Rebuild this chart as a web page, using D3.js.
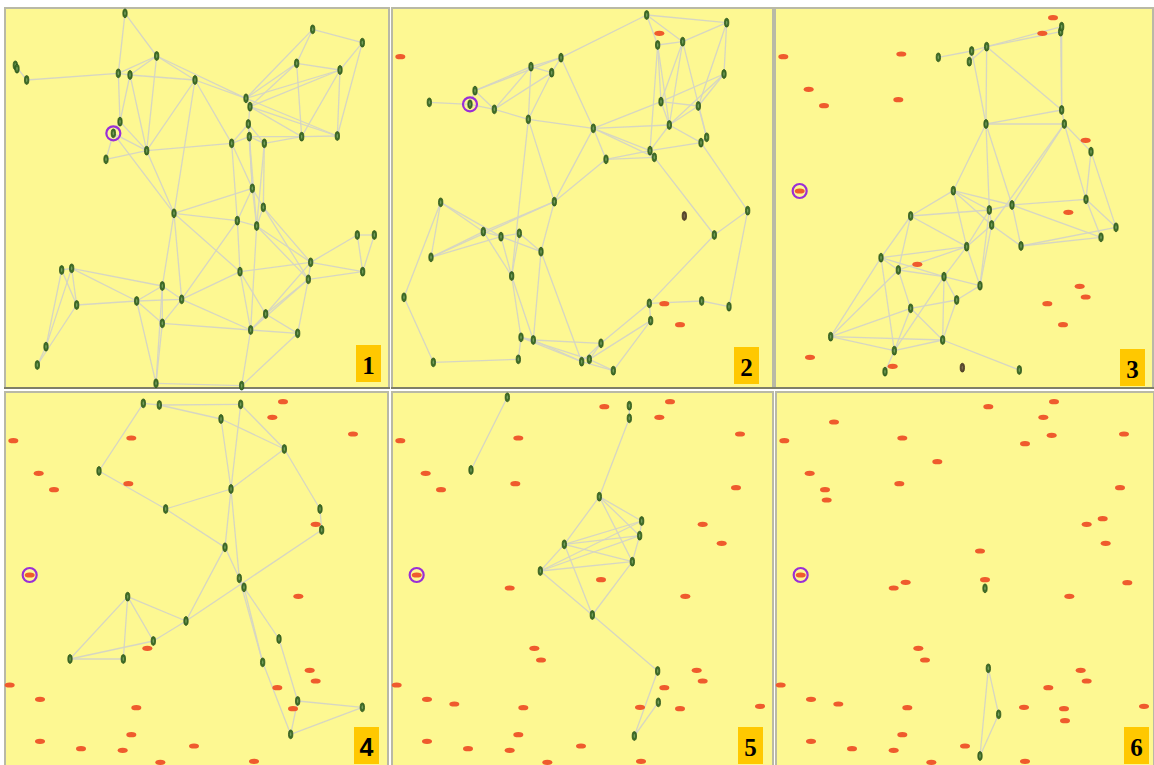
<!DOCTYPE html>
<html>
<head>
<meta charset="utf-8">
<script src="https://cdn.jsdelivr.net/npm/d3@7"></script>
<style>
  html, body { margin: 0; background: #ffffff; }
  svg { display: block; }
</style>
</head>
<body>
<svg id="chart" width="1154" height="765"></svg>
<script>
// Sensor field snapshots over six rounds. Coordinates are field units (0..1140 square).
const FIELD = 1140;
const roundLabels = ["1", "2", "3", "4", "5", "6"];

// Dead sensors keep their last position; `since` is the first round they appear dead.
const deadNodes = [
  {x: 637, y: 44, since: 5}, {x: 834, y: 29, since: 3}, {x: 802, y: 76, since: 2},
  {x: 174, y: 90, since: 6}, {x: 25, y: 146, since: 2}, {x: 379, y: 138, since: 3},
  {x: 827, y: 130, since: 6}, {x: 747, y: 155, since: 6}, {x: 1044, y: 126, since: 4},
  {x: 484, y: 209, since: 6}, {x: 101, y: 244, since: 3}, {x: 370, y: 275, since: 3},
  {x: 147, y: 293, since: 3}, {x: 152, y: 324, since: 6}, {x: 1032, y: 287, since: 5},
  {x: 980, y: 380, since: 6}, {x: 932, y: 397, since: 3}, {x: 989, y: 454, since: 5},
  {x: 612, y: 477, since: 6}, {x: 627, y: 563, since: 5}, {x: 74, y: 549, since: 3},
  {x: 389, y: 571, since: 6}, {x: 353, y: 588, since: 5}, {x: 1054, y: 572, since: 6},
  {x: 880, y: 613, since: 3}, {x: 427, y: 769, since: 3}, {x: 447, y: 804, since: 5},
  {x: 914, y: 835, since: 3}, {x: 932, y: 867, since: 3}, {x: 14, y: 879, since: 4},
  {x: 817, y: 887, since: 2}, {x: 105, y: 922, since: 4}, {x: 187, y: 936, since: 5},
  {x: 394, y: 947, since: 4}, {x: 744, y: 946, since: 5}, {x: 864, y: 950, since: 2},
  {x: 1104, y: 943, since: 5}, {x: 867, y: 986, since: 6}, {x: 379, y: 1028, since: 4},
  {x: 105, y: 1048, since: 3}, {x: 228, y: 1070, since: 4}, {x: 353, y: 1075, since: 3},
  {x: 567, y: 1062, since: 4}, {x: 466, y: 1111, since: 4}, {x: 747, y: 1108, since: 4}
];

// The monitored (circled) sensor: alive id per round, or its dead position.
const sinkAlive = ["p", "k", null, null, null, null];
const sinkDead = {x: 74, y: 549};

// Live sensors per round: [id, x, y]
const alive1 = [
  ["a",360,16],["b",31,172],["b2",36,182],["c",65,216],["d",455,144],["e",340,196],["f",375,201],
  ["g",570,216],["h",923,64],["i",1072,104],["j",875,166],["k",1005,186],["l",723,271],
  ["m",735,296],["n",730,348],["o",345,341],["p",325,376],["q",303,454],["r",425,428],
  ["s",680,406],["t",733,386],["u",778,406],["v",890,386],["w",997,384],["x",742,541],
  ["y",775,598],["z",507,616],["aa",697,638],["ab",755,654],["ac",1057,681],["ad",1108,681],
  ["ae",170,786],["af",200,781],["ag",917,763],["ah",705,791],["ai",910,814],["aj",1073,791],
  ["ak",472,834],["al",215,891],["am",395,879],["an",530,874],["ao",782,918],["ap",472,946],
  ["aq",737,966],["ar",878,976],["as",123,1016],["at",97,1071],["au",453,1126],["av",710,1133]
];
const links1 = [
  "a-e","a-d","b-c","c-e","e-f","e-o","f-o","d-f","d-e","d-g","f-g","d-l","f-r","d-r","o-p",
  "p-q","p-r","o-r","q-r","p-z","g-r","g-s","g-l","g-z","r-z","r-s",
  "h-i","h-j","h-l","i-k","i-w","j-k","j-l","j-m","k-l","k-m","k-w","k-v","j-v","l-m","m-n",
  "l-w","m-w","m-v","n-t","t-v","v-w","u-v","n-s","s-t","t-u","n-u",
  "n-x","t-x","u-y","x-y","s-aa","t-ab","u-ab","x-ab","x-z","z-aa","aa-ab","x-aa",
  "z-ah","z-ak","z-an","aa-ah","aa-an","ab-ag","ab-ai","ab-aq","y-ag","y-ai","ag-ac","ag-aj",
  "ag-ah","ag-ai","ag-ao","ac-ad","ad-aj","ac-aj","ai-ao","ai-ar","ai-aq","ai-aj","ah-an",
  "ah-aq","ah-ao","ao-aq","aq-ar","ao-ar","ar-av","aq-av","au-av","ap-au","ak-au","am-au",
  "ak-af","ak-am","ak-an","ak-ap","am-al","am-af","am-ap","am-an","an-ap","an-aq","ap-aq",
  "ae-af","ae-as","af-as","af-al","as-at","al-at","ae-al","y-ab","s-x"
];

const alive2 = [
  ["a",764,21],["b",1004,44],["c",797,111],["d",872,101],["e",507,149],["f",417,176],
  ["g",479,194],["h",996,198],["i",249,248],["j",112,283],["k",234,289],["l",307,304],
  ["m",409,334],["n",807,281],["o",919,294],["p",604,361],["q",832,351],["r",944,388],
  ["s",927,404],["t",774,428],["u",787,448],["v",642,454],["w",487,581],["x",146,583],
  ["y",1067,608],["z",877,624,true],["aa",274,671],["ab",327,686],["ac",382,676],["ad",447,731],
  ["ae",117,748],["af",967,681],["ag",359,804],["ah",36,868],["ai",772,886],["aj",929,879],
  ["ak",1011,896],["al",776,938],["am",387,988],["an",424,996],["ao",627,1006],["ap",379,1054],
  ["aq",124,1063],["ar",569,1061],["as",592,1054],["at",664,1088]
];
const links2 = [
  "j-k","i-k","k-l","i-l","i-f","i-e","l-f","l-g","l-m","f-g","e-g","e-f","g-m","f-m","m-p",
  "e-p","e-a","a-b","a-c","a-d","c-d","c-n","c-q","c-t","d-b","d-n","d-q","d-r","b-h","b-o",
  "h-n","h-o","h-q","n-o","n-q","o-q","o-r","q-t","q-s","r-s","s-t","t-u","p-t","p-v","v-t",
  "v-u","p-u","p-n","p-q","w-v","w-p","m-w","m-ag","s-y","u-af","y-af","af-ai","y-ak",
  "x-aa","x-ab","x-ae","x-ah","aa-ab","ab-ac","ab-ad","ac-ad","w-aa","w-ae","ae-aa","ae-ab",
  "aa-ag","ab-ag","ac-ag","ag-am","ag-an","ad-an","ad-ar","ah-aq","aq-ap","ap-am","am-an",
  "an-ar","am-ar","am-as","an-ao","ao-ar","ao-as","ao-ai","as-al","al-ai","ar-at","as-at",
  "at-al","ai-aj","aj-ak","w-ad"
];

const alive3 = [
  ["a",857,71],["a2",860,56],["b",635,116],["c",590,129],["d",583,161],["e",490,148],
  ["f",860,306],["g",633,348],["h",868,348],["i",948,431],["j",535,548],["k",407,624],
  ["l",643,606],["m",711,591],["n",933,574],["o",650,651],["p",1023,658],["q",978,688],
  ["r",738,714],["s",575,716],["t",318,749],["u",370,786],["v",507,806],["w",615,833],
  ["x",545,876],["y",407,901],["z",167,986],["aa",503,996],["ab",358,1028],["ac",330,1091],
  ["ad",562,1079,true],["ae",733,1086]
];
const links3 = [
  "e-c","c-b","b-a","b-a2","a-a2","d-c","b-d","b-g","c-g","b-f","a-f","a2-f","f-h","g-h",
  "g-f","g-j","g-l","g-m","m-h","h-o","h-i","h-n","i-n","i-p","n-p","n-q","m-n","m-q","r-q",
  "r-p","l-m","l-o","j-k","j-l","j-m","j-s","j-o","k-s","k-t","k-u","k-l","t-u","t-v","t-s",
  "u-v","u-s","u-y","v-s","v-w","v-x","s-w","s-l","o-s","o-w","l-w","y-x","y-z","y-aa",
  "y-ab","z-ab","z-aa","z-u","z-t","aa-ab","aa-x","aa-v","aa-ae","ab-ac","ab-t","ab-v",
  "x-w","m-r","o-r"
];

const alive4 = [
  ["a",415,34],["b",463,39],["c",707,37],["d",648,81],["e",838,171],["f",282,237],
  ["g",678,291],["h",482,351],["i",945,351],["j",950,414],["k",660,466],["l",703,559],
  ["m",717,586],["n",368,614],["o",543,687],["p",445,747],["q",195,801],["r",355,801],
  ["s",822,741],["t",773,811],["u",878,927],["v",1072,946],["w",857,1027]
];
const links4 = [
  "a-f","a-b","b-c","b-d","d-e","c-e","c-g","d-g","g-k","g-l","e-g","e-i","i-j","j-o","g-h",
  "f-h","h-k","k-o","k-l","l-m","m-s","m-t","l-t","n-o","n-p","n-q","n-r","q-r","q-p","p-o",
  "s-u","t-w","u-w","u-v","w-v"
];

const alive5 = [
  ["a",346,16],["b",237,234],["c",712,41],["d",712,79],["e",622,314],["f",749,387],
  ["g",743,431],["h",517,457],["i",721,509],["j",445,537],["k",601,669],["l",797,837],
  ["m",799,931],["n",727,1032]
];
const links5 = [
  "a-b","c-d","d-e","e-h","e-f","e-g","e-i","h-f","h-g","h-i","j-h","j-f","j-g","j-i","h-k",
  "j-k","i-k","g-i","f-g","k-l","l-n","m-n"
];

const alive6 = [
  ["a",627,589],["b",637,829],["c",668,967],["d",612,1092]
];
const links6 = ["b-c","c-d","b-d"];

const aliveByRound = [alive1, alive2, alive3, alive4, alive5, alive6];
const linksByRound = [links1, links2, links3, links4, links5, links6];

// Panel frames in page pixels
const panels = [
  {x: 5,   y: 8,   w: 384, h: 380, lx: 356,  ly: 345, font: "'Liberation Serif', serif"},
  {x: 392, y: 8,   w: 381, h: 380, lx: 734,  ly: 347, font: "'Liberation Serif', serif"},
  {x: 775, y: 8,   w: 378, h: 380, lx: 1120, ly: 349, font: "'Liberation Serif', serif"},
  {x: 5,   y: 392, w: 383, h: 380, lx: 354,  ly: 727, font: "'Liberation Sans', Arial, sans-serif"},
  {x: 392, y: 392, w: 381, h: 380, lx: 738,  ly: 727, font: "'Liberation Serif', serif"},
  {x: 776, y: 392, w: 378, h: 380, lx: 1124, ly: 727, font: "'Liberation Serif', serif"}
];

const svg = d3.select("#chart");
const sx = d3.scaleLinear().domain([0, FIELD]).range([0, 380]);
const sy = d3.scaleLinear().domain([0, FIELD]).range([0, 380]);

panels.forEach((pf, r) => {
  const round = r + 1;
  const g = svg.append("g").attr("transform", `translate(${pf.x},${pf.y})`);

  g.append("rect")
    .attr("x", 0).attr("y", 0).attr("width", pf.w).attr("height", pf.h)
    .attr("fill", "#fdf892")
    .attr("stroke", "#b9b9a6").attr("stroke-width", 2);
  g.append("line")
    .attr("x1", -1).attr("x2", pf.w + 1).attr("y1", pf.h).attr("y2", pf.h)
    .attr("stroke", "#7f7f68").attr("stroke-width", 2);

  const nodes = aliveByRound[r].map(d => ({id: d[0], x: d[1], y: d[2], weak: !!d[3]}));
  const byId = new Map(nodes.map(n => [n.id, n]));
  const links = linksByRound[r].map(s => s.split("-")).map(([a, b]) => ({s: byId.get(a), t: byId.get(b)}));

  // radio links
  g.append("g").selectAll("line").data(links).join("line")
    .attr("x1", d => sx(d.s.x)).attr("y1", d => sy(d.s.y))
    .attr("x2", d => sx(d.t.x)).attr("y2", d => sy(d.t.y))
    .attr("stroke", "#d4d4c6").attr("stroke-width", 1.3).attr("stroke-opacity", 0.95);

  // dead sensors
  const dead = deadNodes.filter(d => d.since <= round);
  g.append("g").selectAll("ellipse").data(dead).join("ellipse")
    .attr("cx", d => sx(d.x)).attr("cy", d => sy(d.y))
    .attr("rx", 5).attr("ry", 2.6)
    .attr("fill", "#ef5b2d");

  // live sensors
  const live = g.append("g").selectAll("g").data(nodes).join("g")
    .attr("transform", d => `translate(${sx(d.x)},${sy(d.y)})`);
  live.append("ellipse")
    .attr("rx", 2.2).attr("ry", 4.4)
    .attr("fill", d => d.weak ? "#5a4a30" : "#3f6e28")
    .attr("stroke", d => d.weak ? "#3d2e1a" : "#264d16").attr("stroke-width", 0.7);
  live.append("ellipse")
    .attr("rx", 0.7).attr("ry", 2)
    .attr("fill", d => d.weak ? "#8a7a5a" : "#8fb072").attr("opacity", 0.7);

  // monitored sensor ring
  const sink = sinkAlive[r] ? byId.get(sinkAlive[r]) : sinkDead;
  g.append("circle")
    .attr("cx", sx(sink.x)).attr("cy", sy(sink.y)).attr("r", 7)
    .attr("fill", "none").attr("stroke", "#9a2fd6").attr("stroke-width", 2.2);

  // round label
  const lbl = svg.append("g").attr("transform", `translate(${pf.lx},${pf.ly})`);
  lbl.append("rect").attr("width", 25).attr("height", 37).attr("fill", "#ffc800");
  lbl.append("text")
    .attr("x", 12.5).attr("y", 29)
    .attr("text-anchor", "middle")
    .attr("font-family", pf.font)
    .attr("font-weight", "bold")
    .attr("font-size", 25)
    .attr("fill", "#000")
    .text(roundLabels[r]);
});
</script>
</body>
</html>
